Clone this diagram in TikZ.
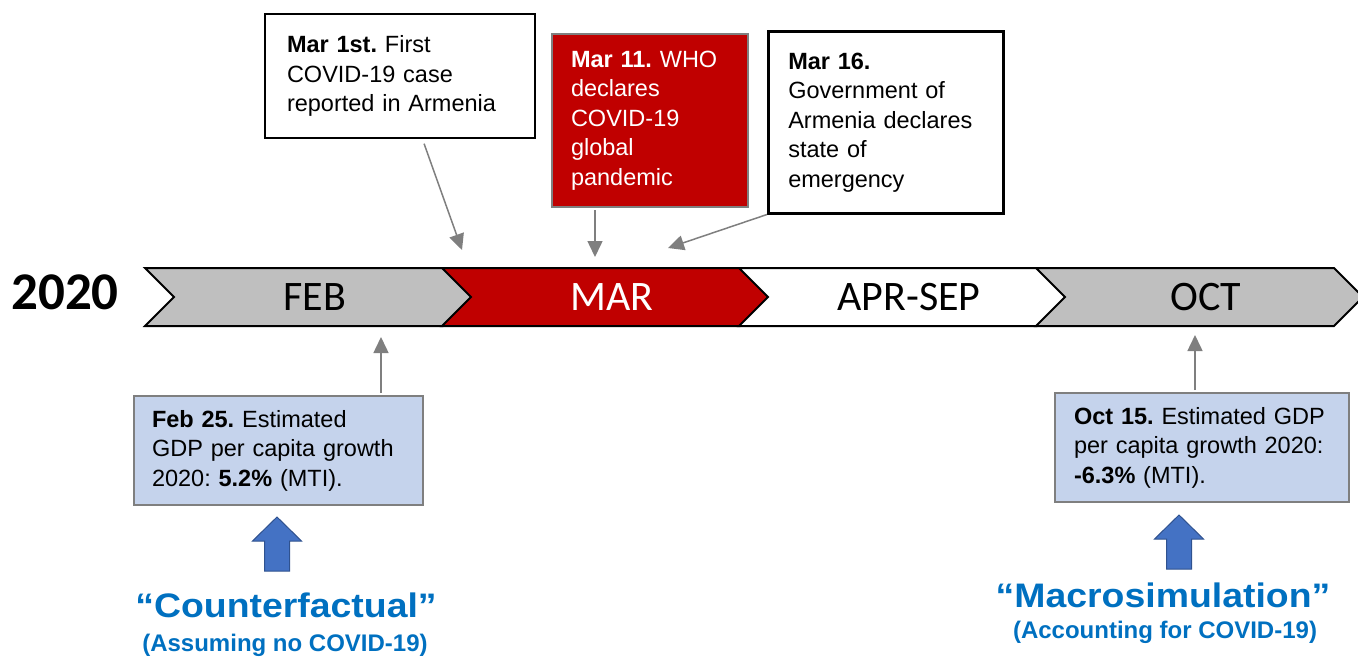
\documentclass[tikz,border=0pt]{standalone}
\usepackage{fontspec}
\setmainfont{Liberation Sans}
\newfontfamily\calibri{Carlito}
\newfontfamily\titrefont[FakeStretch=1.1]{Liberation Sans}
\usetikzlibrary{arrows.meta}
\definecolor{gristimeline}{HTML}{BFBFBF}
\definecolor{rougecovid}{HTML}{C00000}
\definecolor{grisfleche}{HTML}{7F7F7F}
\definecolor{bleuclair}{HTML}{C5D3EC}
\definecolor{bleufleche}{HTML}{4472C4}
\definecolor{bleubord}{HTML}{2F528F}
\definecolor{bleutexte}{HTML}{0070C0}
\frenchspacing

\begin{document}
\begin{tikzpicture}[x=1pt, y=-1pt]
\tikzset{chevron/.style={draw=black, line width=2pt, line join=miter},
  mois/.style={font=\calibri\fontsize{42}{42}\selectfont},
  boite/.style={draw=black, line width=2pt, anchor=north west, align=left, inner ysep=0pt,
    font=\fontsize{23.5}{29.5}\selectfont},
  estim/.style={boite, draw=grisfleche, fill=bleuclair},
  fleche/.style={draw=grisfleche, line width=1.5pt, -{Triangle[length=16pt, width=15pt]}},
  grossefleche/.style={draw=bleubord, fill=bleufleche, line width=1pt},
  titre/.style={anchor=base, text=bleutexte, font=\titrefont\bfseries\fontsize{34}{34}\selectfont},
  soustitre/.style={anchor=base, text=bleutexte, font=\bfseries\fontsize{24}{24}\selectfont}}
\useasboundingbox (0,0) rectangle (1358,657);
\clip (0,0) rectangle (1358,657);
\node[font=\calibri\bfseries\fontsize{53}{53}\selectfont] (annee) at (65,292) {2020};
\foreach \lbl/\col/\txtcol [count=\i from 0] in {FEB/gristimeline/black, MAR/rougecovid/white, APR-SEP/white/black, OCT/gristimeline/black} {
  \pgfmathsetmacro\xl{145+297*\i}
  \draw[chevron, fill=\col] (\xl,268) -- ++(298,0) -- ++(29,29) -- ++(-29,29) -- ++(-298,0) -- ++(29,-29) -- cycle;
  \node[mois, text=\txtcol] (m\i) at (\xl+170,297) {\lbl};
}
\node[boite, minimum width=270, minimum height=124, text width=226, inner xsep=22] (evt1) at (264,13)
  {\textbf{Mar 1st.} First\\COVID-19 case\\reported in Armenia};
\node[boite, draw=grisfleche, fill=rougecovid, text=white, minimum width=196, minimum height=173, text width=158, inner xsep=19] (evt2) at (551,33)
  {\textbf{Mar 11.} WHO\\declares\\COVID-19\\global\\pandemic};
\node[boite, line width=2.5pt, minimum width=235, minimum height=182, text width=195, inner xsep=20] (evt3) at (767,30)
  {\textbf{Mar 16.}\\Government of\\Armenia declares\\state of\\emergency};
\node[estim, minimum width=289, minimum height=109, text width=253, inner xsep=18] (est1) at (133,395)
  {\textbf{Feb 25.} Estimated\\GDP per capita growth\\2020: \textbf{5.2\%} (MTI).};
\node[estim, minimum width=294, minimum height=109, text width=256, inner xsep=19] (est2) at (1054,392)
  {\textbf{Oct 15.} Estimated GDP\\per capita growth 2020:\\\textbf{-6.3\%} (MTI).};
\coordinate (t1) at (462,250);
\coordinate (t2) at (595,257);
\coordinate (t3) at (668,248);
\coordinate (u1) at (381,337);
\coordinate (u2) at (1195,335);
\draw[fleche, shorten <=5pt] (evt1) -- (t1);
\draw[fleche] (t2 |- evt2.south) ++(0,2) -- (t2);
\draw[fleche] (evt3.south west) -- (t3);
\draw[fleche] (u1 |- est1.north) ++(0,-2) -- (u1);
\draw[fleche] (u2 |- est2.north) ++(0,-2) -- (u2);
\foreach \cx/\ty in {277/517, 1179/515}
  \draw[grossefleche] (\cx,\ty) -- ++(24.5,24) -- ++(-12,0) -- ++(0,30) -- ++(-25,0) -- ++(0,-30) -- ++(-12,0) -- cycle;
\node[titre] (contre) at (286,617) {“Counterfactual”};
\node[soustitre] (contresous) at (285,651) {(Assuming no COVID-19)};
\node[titre] (macro) at (1163,607) {“Macrosimulation”};
\node[soustitre] (macrosous) at (1165,638) {(Accounting for COVID-19)};
\end{tikzpicture}
\end{document}
